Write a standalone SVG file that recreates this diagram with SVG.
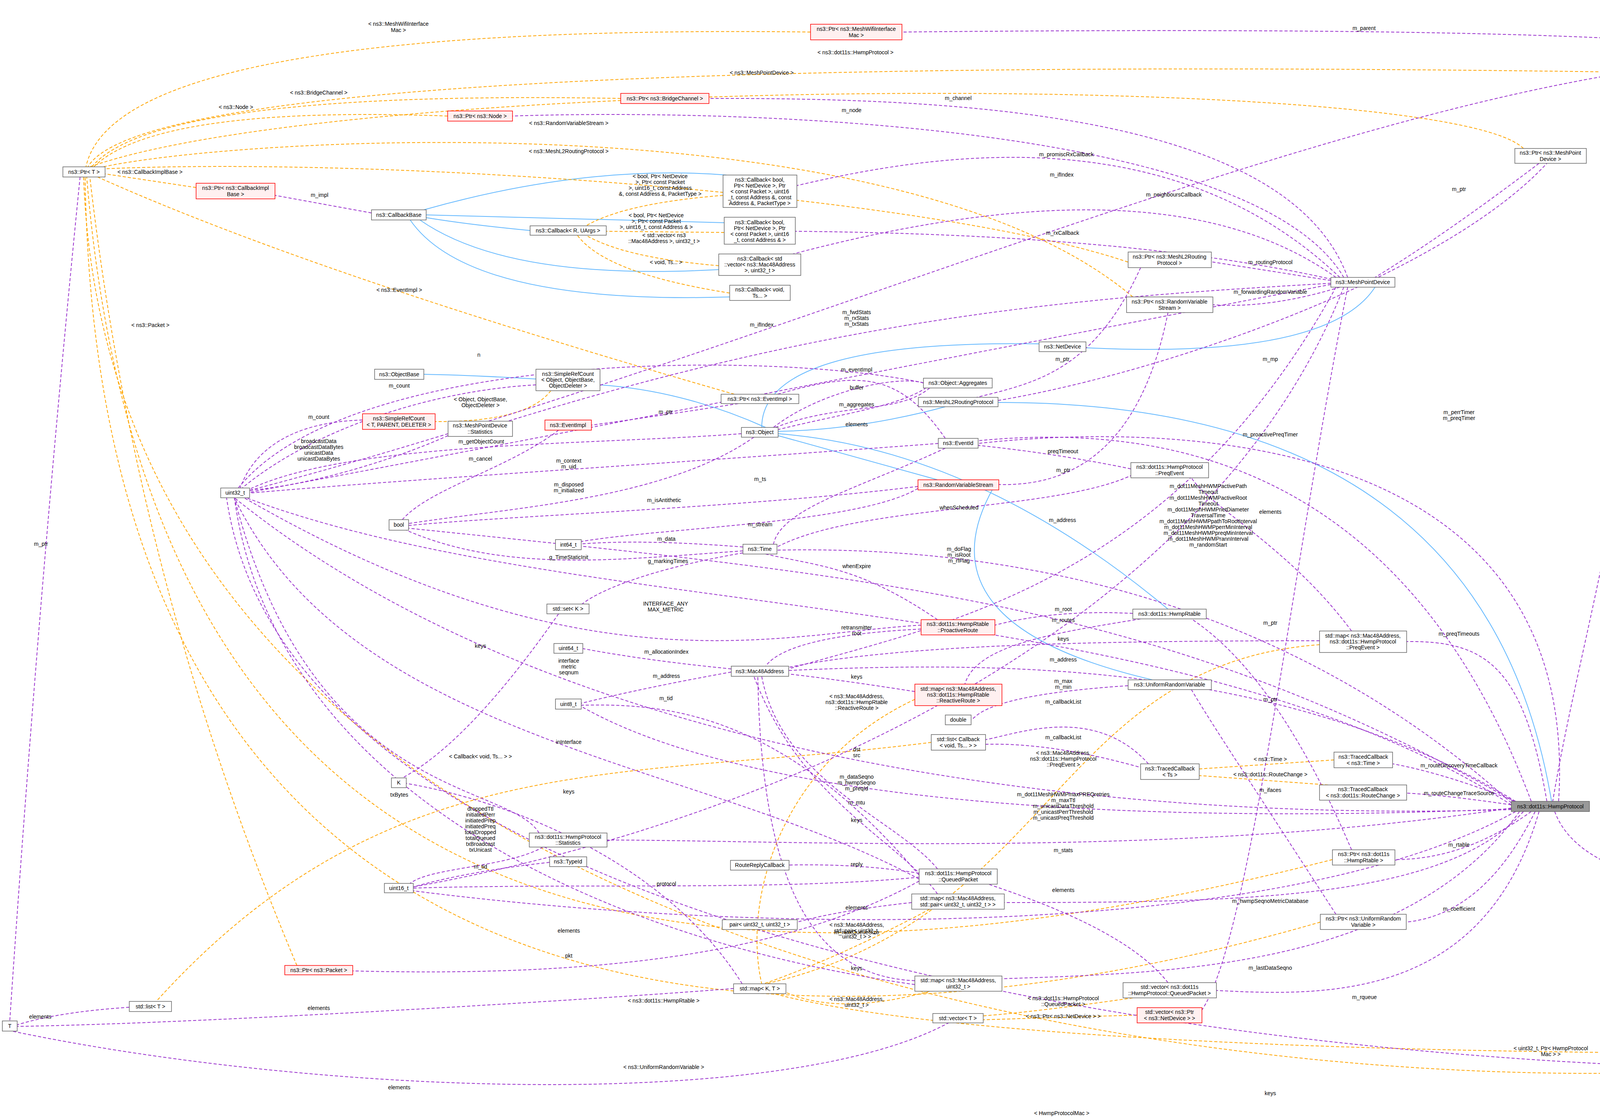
<svg xmlns="http://www.w3.org/2000/svg" width="5360" height="2864" viewBox="0 0 5360 2864">
<style>
text{font-family:"Liberation Sans",Arial,sans-serif;font-size:14px;fill:#000}
.n rect{fill:#fff;stroke:#666;stroke-width:1.5}
.r rect{fill:#fff0f0;stroke:#f00;stroke-width:1.5}
.g rect{fill:#999;stroke:#666;stroke-width:1.5}
.n text,.r text,.g text,.l{text-anchor:middle}
path{fill:none}
.p{stroke:#9a32cd;stroke-width:2;stroke-dasharray:8,5}
.o{stroke:#ffa500;stroke-width:2;stroke-dasharray:8,5}
.b{stroke:#63b8ff;stroke-width:2}
</style>
<defs>
<marker id="mp" markerWidth="10" markerHeight="10" refX="9" refY="5" orient="auto" markerUnits="userSpaceOnUse" viewBox="0 0 10 10"><path d="M0,0 L10,5 L0,10z" fill="#9a32cd" transform="scale(1)"/></marker>
<marker id="mo" markerWidth="14" markerHeight="14" refX="13" refY="7" orient="auto" markerUnits="userSpaceOnUse" viewBox="0 0 14 14"><path d="M0,0 L14,7 L0,14z" fill="#ffa500"/></marker>
<marker id="mb" markerWidth="14" markerHeight="14" refX="13" refY="7" orient="auto" markerUnits="userSpaceOnUse" viewBox="0 0 14 14"><path d="M0,0 L14,7 L0,14z" fill="#63b8ff"/></marker>
</defs>
<rect width="5360" height="2864" fill="#fff"/>
<g id="edges">
<g marker-end="url(#mb)" class="b">
<path class="b" d="M4600,144 Q4480,60 4362,30"/>
<path class="b" d="M1860,448 Q1500,420 1085,537"/>
<path class="b" d="M1854,570 Q1500,560 1091,550"/>
<path class="b" d="M1357,590 Q1200,575 1091,557"/>
<path class="b" d="M1840,690 Q1300,720 1075,563"/>
<path class="b" d="M1868,760 Q1200,780 1050,563"/>
<path class="b" d="M1372,970 Q1200,960 1085,958"/>
<path class="b" d="M1960,1094 Q1750,1000 1536,985"/>
<path class="b" d="M2420,1041 Q2200,1100 1992,1104"/>
<path class="b" d="M2660,880 Q1950,870 1950,1094"/>
<path class="b" d="M2400,1228 L1992,1115"/>
<path class="b" d="M2990,1559 Q2500,1150 1992,1110"/>
<path class="b" d="M3520,735 Q3400,920 2780,890"/>
<path class="b" d="M3972,2051 Q3800,1030 2555,1030"/>
<path class="b" d="M2950,1740 Q2350,1600 2540,1254"/>
</g>
<g marker-end="url(#mo)">
<path class="o" d="M2075,82 Q300,60 220,427"/>
<path class="o" d="M4183,185 Q400,130 225,427"/>
<path class="o" d="M3900,380 C3700,180 900,190 230,427"/>
<path class="o" d="M1589,252 Q400,230 235,427"/>
<path class="o" d="M1146,297 Q400,270 240,427"/>
<path class="o" d="M2900,760 C2300,250 600,350 250,430"/>
<path class="o" d="M2900,675 C2400,500 1000,400 269,432"/>
<path class="o" d="M502,480 L269,445"/>
<path class="o" d="M1880,1009 Q800,700 250,453"/>
<path class="o" d="M760,2471 Q350,1500 230,453"/>
<path class="o" d="M3411,2200 C2000,2560 400,2600 222,453"/>
<path class="o" d="M3380,2360 C2000,2760 250,2700 218,453"/>
<path class="o" d="M4900,2668 C4300,2870 300,2860 214,453"/>
<path class="o" d="M1851,500 Q1600,520 1500,578"/>
<path class="o" d="M1854,595 L1552,592"/>
<path class="o" d="M1840,680 Q1600,660 1500,602"/>
<path class="o" d="M1868,750 Q1550,700 1478,602"/>
<path class="o" d="M1410,1000 Q1350,1080 1114,1079"/>
<path class="o" d="M2384,1900 C1600,2000 1000,1900 400,2563"/>
<path class="o" d="M2342,1790 C2000,1950 1900,2300 1950,2518"/>
<path class="o" d="M3378,1650 C2700,1700 2700,2350 1960,2518"/>
<path class="o" d="M2380,2327 Q2150,2450 1955,2518"/>
<path class="o" d="M2380,2537 Q2150,2600 2012,2540"/>
<path class="o" d="M5144,2690 C4000,2710 2500,2680 1980,2543"/>
<path class="o" d="M2900,2554 Q2650,2590 2517,2600"/>
<path class="o" d="M2911,2598 L2517,2610"/>
<path class="o" d="M3415,1945 L3070,1968"/>
<path class="o" d="M3400,2009 L3070,1985"/>
</g>
<g marker-end="url(#mp)">
<path class="p" d="M4580,144 C4300,70 3000,75 2309,82"/>
<path class="p" d="M4488,160 L4344,185"/>
<path class="p" d="M4488,150 C3500,200 2000,900 639,1255"/>
<path class="p" d="M3940,418 Q3700,600 3520,710"/>
<path class="p" d="M2555,1025 C3000,950 3700,700 3960,418"/>
<path class="p" d="M4260,210 C4200,1200 4050,1600 3975,2051"/>
<path class="p" d="M4920,2642 Q4800,1000 4605,169"/>
<path class="p" d="M3980,2077 C4100,2400 5000,2200 5240,2662"/>
<path class="p" d="M5144,2675 L5028,2655"/>
<path class="p" d="M5200,2702 C5000,2800 800,2800 580,1274"/>
<path class="p" d="M3450,710 C3300,300 2500,250 1815,252"/>
<path class="p" d="M3440,710 C3200,300 1800,280 1312,297"/>
<path class="p" d="M3430,710 C3000,300 2400,390 2040,475"/>
<path class="p" d="M3410,715 Q2900,600 2036,592"/>
<path class="p" d="M3420,710 C3100,480 2600,500 2030,650"/>
<path class="p" d="M3407,718 L3101,670"/>
<path class="p" d="M3430,735 Q3250,790 3105,780"/>
<path class="p" d="M3407,725 C2800,760 2200,800 1300,1078"/>
<path class="p" d="M3407,728 C2500,900 1500,1100 639,1260"/>
<path class="p" d="M3440,735 C3100,1600 2000,2100 1058,2270"/>
<path class="p" d="M3450,735 C3300,1500 3200,2400 3077,2585"/>
<path class="p" d="M3420,735 C3000,1500 2400,1600 2019,1712"/>
<path class="p" d="M2920,685 C2800,950 2650,980 2500,1017"/>
<path class="p" d="M2990,800 Q2900,1250 2557,1240"/>
<path class="p" d="M951,545 L704,500"/>
<path class="p" d="M2420,1122 C2300,950 2200,950 1990,1009"/>
<path class="p" d="M1890,1033 Q1650,1070 1514,1088"/>
<path class="p" d="M1980,1094 C2100,1000 2300,960 2364,980"/>
<path class="p" d="M1990,1100 C2150,1060 2300,1040 2370,993"/>
<path class="p" d="M2380,993 C2300,1060 2150,1030 1985,1094"/>
<path class="p" d="M1372,985 C1100,1000 800,1100 620,1249"/>
<path class="p" d="M928,1075 C750,1080 650,1150 615,1249"/>
<path class="p" d="M1147,1115 C1000,1180 800,1240 639,1255"/>
<path class="p" d="M1898,1110 C1500,1140 900,1130 639,1252"/>
<path class="p" d="M1430,1101 C1300,1200 1100,1250 1030,1330"/>
<path class="p" d="M2402,1135 C1800,1180 1000,1230 639,1262"/>
<path class="p" d="M1930,1119 C1700,1280 1300,1300 1046,1340"/>
<path class="p" d="M2350,1245 C1900,1300 1300,1320 1046,1345"/>
<path class="p" d="M1902,1400 Q1650,1380 1488,1392"/>
<path class="p" d="M1902,1410 C1600,1430 1300,1470 1040,1357"/>
<path class="p" d="M1902,1415 C1700,1450 1550,1500 1490,1546"/>
<path class="p" d="M1430,1571 Q1200,1900 1030,1991"/>
<path class="p" d="M3869,2060 C3000,1500 1500,1600 630,1274"/>
<path class="p" d="M2358,1600 C2000,1620 1500,1780 625,1274"/>
<path class="p" d="M1872,1712 Q1650,1690 1492,1660"/>
<path class="p" d="M1872,1720 Q1650,1760 1488,1800"/>
<path class="p" d="M2353,2240 C2000,1820 1700,1800 1488,1805"/>
<path class="p" d="M2353,2250 C1800,1950 900,1900 600,1274"/>
<path class="p" d="M2420,1147 C2200,1250 2000,1300 1980,1393"/>
<path class="p" d="M2350,1250 C2200,1340 1700,1350 1488,1386"/>
<path class="p" d="M2895,1200 Q2700,1160 2504,1140"/>
<path class="p" d="M3920,2051 C3600,1200 3000,1080 2504,1128"/>
<path class="p" d="M3990,2051 C4050,1100 3000,1080 2504,1135"/>
<path class="p" d="M2900,1215 C2700,1310 2200,1290 1989,1400"/>
<path class="p" d="M2400,1586 C2200,1450 2100,1450 1960,1418"/>
<path class="p" d="M3869,2055 C3200,1450 2400,1400 1989,1408"/>
<path class="p" d="M3875,2051 C3000,1550 2300,1480 1046,1352"/>
<path class="p" d="M2900,1570 Q2700,1560 2547,1600"/>
<path class="p" d="M2920,1584 C2700,1620 2500,1650 2470,1751"/>
<path class="p" d="M2358,1610 C2150,1620 2000,1650 1960,1705"/>
<path class="p" d="M3378,1640 C2800,1640 2300,1650 2019,1708"/>
<path class="p" d="M2342,1770 Q2150,1740 2019,1725"/>
<path class="p" d="M3880,2051 C3300,1700 2600,1690 2019,1716"/>
<path class="p" d="M2888,1755 C2500,1780 2500,1840 2486,1842"/>
<path class="p" d="M2940,1955 C2800,1800 2600,1880 2523,1893"/>
<path class="p" d="M2940,1970 Q2700,1900 2523,1905"/>
<path class="p" d="M3460,1615 C3300,1400 3100,1300 3050,1223"/>
<path class="p" d="M3960,2051 C3900,1700 3800,1640 3601,1642"/>
<path class="p" d="M3880,2051 Q3700,1980 3566,1955"/>
<path class="p" d="M3869,2060 Q3700,2035 3601,2030"/>
<path class="p" d="M3869,2068 C3000,2200 2000,2150 1554,2150"/>
<path class="p" d="M1380,2132 C1300,2000 800,2050 600,1274"/>
<path class="p" d="M1390,2168 C1300,2220 1100,2220 1050,2261"/>
<path class="p" d="M1407,2207 Q1200,2230 1058,2270"/>
<path class="p" d="M2353,2245 C2000,2280 1500,2260 1058,2273"/>
<path class="p" d="M2353,2255 C2000,2450 1500,2500 903,2485"/>
<path class="p" d="M2353,2235 Q2200,2210 2020,2214"/>
<path class="p" d="M2400,2224 C2300,2100 2000,2000 1950,1731"/>
<path class="p" d="M3869,2072 C3000,2100 1500,2000 600,1274"/>
<path class="p" d="M3869,2070 C3200,2100 2000,2100 1488,1808"/>
<path class="p" d="M3460,2175 C3300,1800 3150,1650 3050,1584"/>
<path class="p" d="M3920,2077 Q3750,2200 3571,2200"/>
<path class="p" d="M3900,2077 C3700,2300 3200,2310 2571,2310"/>
<path class="p" d="M2334,2310 Q2150,2330 2041,2360"/>
<path class="p" d="M2400,2288 C2300,2150 2050,2050 1930,1731"/>
<path class="p" d="M3930,2077 Q3800,2340 3600,2360"/>
<path class="p" d="M3420,2340 C3200,2000 3100,1850 3050,1765"/>
<path class="p" d="M3880,2077 C3300,2400 2000,2400 1058,2280"/>
<path class="p" d="M3890,2077 C3600,2480 3000,2490 2565,2505"/>
<path class="p" d="M2342,2510 C2100,2500 1950,2300 1940,1731"/>
<path class="p" d="M3940,2077 C3800,2560 3400,2550 3114,2535"/>
<path class="p" d="M2990,2515 C2900,2400 2700,2320 2530,2263"/>
<path class="p" d="M2430,2617 C2000,2850 800,2800 30,2639"/>
<path class="p" d="M331,2578 Q150,2590 44,2623"/>
<path class="p" d="M1878,2530 C1500,2560 500,2620 44,2627"/>
<path class="p" d="M1900,2518 C1700,2200 1300,2050 1040,2005"/>
<path class="p" d="M205,453 Q100,1500 25,2613"/>
<path class="p" d="M2342,2520 C1500,2400 700,2000 600,1274"/>
<path class="p" d="M2364,980 C2000,900 900,890 610,1249"/>
</g>
<g class="lbls">
<text class="l" x="1020" y="66">&lt; ns3::MeshWifiInterface</text><text class="l" x="1020" y="82">Mac &gt;</text>
<text class="l" x="2190" y="139">&lt; ns3::dot11s::HwmpProtocol &gt;</text>
<text class="l" x="1950" y="191">&lt; ns3::MeshPointDevice &gt;</text>
<text class="l" x="816" y="242">&lt; ns3::BridgeChannel &gt;</text>
<text class="l" x="604" y="279">&lt; ns3::Node &gt;</text>
<text class="l" x="1456" y="320">&lt; ns3::RandomVariableStream &gt;</text>
<text class="l" x="1456" y="392">&lt; ns3::MeshL2RoutingProtocol &gt;</text>
<text class="l" x="384" y="445">&lt; ns3::CallbackImplBase &gt;</text>
<text class="l" x="1022" y="747">&lt; ns3::EventImpl &gt;</text>
<text class="l" x="385" y="837">&lt; ns3::Packet &gt;</text>
<text class="l" x="1699" y="2566">&lt; ns3::dot11s::HwmpRtable &gt;</text>
<text class="l" x="1699" y="2736">&lt; ns3::UniformRandomVariable &gt;</text>
<text class="l" x="2718" y="2854">&lt; HwmpProtocolMac &gt;</text>
<text class="l" x="1690" y="456">&lt; bool, Ptr&lt; NetDevice</text><text class="l" x="1690" y="471">&gt;, Ptr&lt; const Packet</text><text class="l" x="1690" y="486">&gt;, uint16_t, const Address</text><text class="l" x="1690" y="501">&amp;, const Address &amp;, PacketType &gt;</text>
<text class="l" x="1680" y="556">&lt; bool, Ptr&lt; NetDevice</text><text class="l" x="1680" y="571">&gt;, Ptr&lt; const Packet</text><text class="l" x="1680" y="586">&gt;, uint16_t, const Address &amp; &gt;</text>
<text class="l" x="1700" y="607">&lt; std::vector&lt; ns3</text><text class="l" x="1700" y="622">::Mac48Address &gt;, uint32_t &gt;</text>
<text class="l" x="1705" y="676">&lt; void, Ts... &gt;</text>
<text class="l" x="1230" y="1027">&lt; Object, ObjectBase,</text><text class="l" x="1230" y="1042">ObjectDeleter &gt;</text>
<text class="l" x="1230" y="1941">&lt; Callback&lt; void, Ts... &gt; &gt;</text>
<text class="l" x="2193" y="1787">&lt; ns3::Mac48Address,</text><text class="l" x="2193" y="1802">ns3::dot11s::HwmpRtable</text><text class="l" x="2193" y="1817">::ReactiveRoute &gt;</text>
<text class="l" x="2722" y="1932">&lt; ns3::Mac48Address,</text><text class="l" x="2722" y="1947">ns3::dot11s::HwmpProtocol</text><text class="l" x="2722" y="1962">::PreqEvent &gt;</text>
<text class="l" x="2193" y="2372">&lt; ns3::Mac48Address,</text><text class="l" x="2193" y="2387">std::pair&lt; uint32_t,</text><text class="l" x="2193" y="2402">uint32_t &gt; &gt;</text>
<text class="l" x="2193" y="2562">&lt; ns3::Mac48Address,</text><text class="l" x="2193" y="2577">uint32_t &gt;</text>
<text class="l" x="3970" y="2688">&lt; uint32_t, Ptr&lt; HwmpProtocol</text><text class="l" x="3970" y="2703">Mac &gt; &gt;</text>
<text class="l" x="2722" y="2560">&lt; ns3::dot11s::HwmpProtocol</text><text class="l" x="2722" y="2575">::QueuedPacket &gt;</text>
<text class="l" x="2722" y="2606">&lt; ns3::Ptr&lt; ns3::NetDevice &gt; &gt;</text>
<text class="l" x="3252" y="1948">&lt; ns3::Time &gt;</text>
<text class="l" x="3252" y="1987">&lt; ns3::dot11s::RouteChange &gt;</text>
<text class="l" x="3492" y="77">m_parent</text>
<text class="l" x="4427" y="165">m_protocol</text>
<text class="l" x="2718" y="452">m_ifIndex</text>
<text class="l" x="3735" y="489">m_ptr</text>
<text class="l" x="3252" y="924">m_mp</text>
<text class="l" x="4122" y="1010">m_ptr</text>
<text class="l" x="4762" y="1251">m_ptr</text>
<text class="l" x="4603" y="2336">m_interfaces</text>
<text class="l" x="5088" y="2656">elements</text>
<text class="l" x="3252" y="2803">keys</text>
<text class="l" x="2453" y="256">m_channel</text>
<text class="l" x="2180" y="287">m_node</text>
<text class="l" x="2730" y="400">m_promiscRxCallback</text>
<text class="l" x="2720" y="601">m_rxCallback</text>
<text class="l" x="3005" y="503">m_neighboursCallback</text>
<text class="l" x="3252" y="676">m_routingProtocol</text>
<text class="l" x="3252" y="752">m_forwardingRandomVariable</text>
<text class="l" x="2193" y="804">m_fwdStats</text><text class="l" x="2193" y="819">m_rxStats</text><text class="l" x="2193" y="834">m_txStats</text>
<text class="l" x="1950" y="836">m_ifIndex</text>
<text class="l" x="2193" y="2059">m_mtu</text>
<text class="l" x="3252" y="2027">m_ifaces</text>
<text class="l" x="2720" y="1336">m_address</text>
<text class="l" x="2720" y="924">m_ptr</text>
<text class="l" x="2722" y="1208">m_ptr</text>
<text class="l" x="818" y="504">m_impl</text>
<text class="l" x="2193" y="951">m_eventImpl</text>
<text class="l" x="1704" y="1059">m_ptr</text>
<text class="l" x="2193" y="997">buffer</text>
<text class="l" x="2193" y="1040">m_aggregates</text>
<text class="l" x="2193" y="1091">elements</text>
<text class="l" x="1022" y="992">m_count</text>
<text class="l" x="816" y="1072">m_count</text>
<text class="l" x="816" y="1134">broadcastData</text><text class="l" x="816" y="1149">broadcastDataBytes</text><text class="l" x="816" y="1164">unicastData</text><text class="l" x="816" y="1179">unicastDataBytes</text>
<text class="l" x="1232" y="1135">m_getObjectCount</text>
<text class="l" x="1230" y="1179">m_cancel</text>
<text class="l" x="1456" y="1184">m_context</text><text class="l" x="1456" y="1199">m_uid</text>
<text class="l" x="1456" y="1245">m_disposed</text><text class="l" x="1456" y="1260">m_initialized</text>
<text class="l" x="1700" y="1285">m_isAntithetic</text>
<text class="l" x="1706" y="1384">m_data</text>
<text class="l" x="1456" y="1431">g_TimeStaticInit</text>
<text class="l" x="1710" y="1441">g_markingTimes</text>
<text class="l" x="1230" y="1658">keys</text>
<text class="l" x="1704" y="1550">INTERFACE_ANY</text><text class="l" x="1704" y="1565">MAX_METRIC</text>
<text class="l" x="1456" y="1696">interface</text><text class="l" x="1456" y="1711">metric</text><text class="l" x="1456" y="1726">seqnum</text>
<text class="l" x="1706" y="1673">m_allocationIndex</text>
<text class="l" x="1706" y="1735">m_address</text>
<text class="l" x="1705" y="1792">m_tid</text>
<text class="l" x="1456" y="1904">inInterface</text>
<text class="l" x="1946" y="1231">m_ts</text>
<text class="l" x="1946" y="1347">m_stream</text>
<text class="l" x="2721" y="1160">preqTimeout</text>
<text class="l" x="3252" y="1117">m_proactivePreqTimer</text>
<text class="l" x="3735" y="1060">m_perrTimer</text><text class="l" x="3735" y="1075">m_preqTimer</text>
<text class="l" x="2455" y="1304">whenScheduled</text>
<text class="l" x="2193" y="1454">whenExpire</text>
<text class="l" x="3093" y="1249">m_dot11MeshHWMPactivePath</text><text class="l" x="3093" y="1264">Timeout</text><text class="l" x="3093" y="1279">m_dot11MeshHWMPactiveRoot</text><text class="l" x="3093" y="1294">Timeout</text><text class="l" x="3093" y="1309">m_dot11MeshHWMPnetDiameter</text><text class="l" x="3093" y="1324">TraversalTime</text><text class="l" x="3093" y="1339">m_dot11MeshHWMPpathToRootInterval</text><text class="l" x="3093" y="1354">m_dot11MeshHWMPperrMinInterval</text><text class="l" x="3093" y="1369">m_dot11MeshHWMPpreqMinInterval</text><text class="l" x="3093" y="1384">m_dot11MeshHWMPrannInterval</text><text class="l" x="3093" y="1399">m_randomStart</text>
<text class="l" x="2455" y="1410">m_doFlag</text><text class="l" x="2455" y="1425">m_isRoot</text><text class="l" x="2455" y="1440">m_rfFlag</text>
<text class="l" x="2722" y="1564">m_root</text>
<text class="l" x="2722" y="1592">m_routes</text>
<text class="l" x="2193" y="1611">retransmitter</text><text class="l" x="2193" y="1626">root</text>
<text class="l" x="2722" y="1640">keys</text>
<text class="l" x="2193" y="1737">keys</text>
<text class="l" x="2722" y="1693">m_address</text>
<text class="l" x="2722" y="1748">m_max</text><text class="l" x="2722" y="1763">m_min</text>
<text class="l" x="2722" y="1801">m_callbackList</text>
<text class="l" x="2722" y="1892">m_callbackList</text>
<text class="l" x="3252" y="1315">elements</text>
<text class="l" x="3735" y="1627">m_preqTimeouts</text>
<text class="l" x="3735" y="1964">m_routeDiscoveryTimeCallback</text>
<text class="l" x="3735" y="2035">m_routeChangeTraceSource</text>
<text class="l" x="2722" y="2181">m_stats</text>
<text class="l" x="1022" y="2039">txBytes</text>
<text class="l" x="1230" y="2075">droppedTtl</text><text class="l" x="1230" y="2090">initiatedPerr</text><text class="l" x="1230" y="2105">initiatedPrep</text><text class="l" x="1230" y="2120">initiatedPreq</text><text class="l" x="1230" y="2135">totalDropped</text><text class="l" x="1230" y="2150">totalQueued</text><text class="l" x="1230" y="2165">txBroadcast</text><text class="l" x="1230" y="2180">txUnicast</text>
<text class="l" x="1230" y="2223">m_tid</text>
<text class="l" x="1706" y="2267">protocol</text>
<text class="l" x="1456" y="2451">pkt</text>
<text class="l" x="2193" y="2217">reply</text>
<text class="l" x="2193" y="1923">dst</text><text class="l" x="2193" y="1938">src</text>
<text class="l" x="2193" y="1993">m_dataSeqno</text><text class="l" x="2193" y="2008">m_hwmpSeqno</text><text class="l" x="2193" y="2023">m_preqId</text>
<text class="l" x="2722" y="2038">m_dot11MeshHWMPmaxPREQretries</text><text class="l" x="2722" y="2053">m_maxTtl</text><text class="l" x="2722" y="2068">m_unicastDataThreshold</text><text class="l" x="2722" y="2083">m_unicastPerrThreshold</text><text class="l" x="2722" y="2098">m_unicastPreqThreshold</text>
<text class="l" x="3252" y="1599">m_ptr</text>
<text class="l" x="3735" y="2167">m_rtable</text>
<text class="l" x="3252" y="2311">m_hwmpSeqnoMetricDatabase</text>
<text class="l" x="2193" y="2328">elements</text>
<text class="l" x="2193" y="2104">keys</text>
<text class="l" x="3735" y="2331">m_coefficient</text>
<text class="l" x="3252" y="1795">m_ptr</text>
<text class="l" x="2193" y="2391">m_maxQueueSize</text>
<text class="l" x="3252" y="2482">m_lastDataSeqno</text>
<text class="l" x="2193" y="2483">keys</text>
<text class="l" x="3493" y="2557">m_rqueue</text>
<text class="l" x="2722" y="2283">elements</text>
<text class="l" x="1022" y="2788">elements</text>
<text class="l" x="103" y="2607">elements</text>
<text class="l" x="816" y="2585">elements</text>
<text class="l" x="1456" y="2031">keys</text>
<text class="l" x="105" y="1397">m_ptr</text>
<text class="l" x="1456" y="2387">elements</text>
<text class="l" x="1226" y="913">n</text>
</g>
</g>
<g id="n1" class="n"><rect x="161" y="427" width="108" height="26"/><text x="215" y="445">ns3::Ptr&lt; T &gt;</text></g>
<g id="n2" class="r"><rect x="502" y="469" width="202" height="40"/><text x="603" y="486">ns3::Ptr&lt; ns3::CallbackImpl</text><text x="603" y="502">Base &gt;</text></g>
<g id="n3" class="r"><rect x="1146" y="284" width="166" height="26"/><text x="1229" y="302">ns3::Ptr&lt; ns3::Node &gt;</text></g>
<g id="n4" class="r"><rect x="1589" y="239" width="226" height="26"/><text x="1702" y="257">ns3::Ptr&lt; ns3::BridgeChannel &gt;</text></g>
<g id="n5" class="n"><rect x="951" y="537" width="140" height="26"/><text x="1021" y="555">ns3::CallbackBase</text></g>
<g id="n6" class="n"><rect x="1357" y="578" width="195" height="24"/><text x="1454" y="595">ns3::Callback&lt; R, UArgs &gt;</text></g>
<g id="n7" class="n"><rect x="959" y="945" width="126" height="26"/><text x="1022" y="963">ns3::ObjectBase</text></g>
<g id="n8" class="n"><rect x="1372" y="945" width="164" height="55"/><text x="1454" y="962">ns3::SimpleRefCount</text><text x="1454" y="977">&lt; Object, ObjectBase,</text><text x="1454" y="992">ObjectDeleter &gt;</text></g>
<g id="n9" class="r"><rect x="2075" y="62" width="234" height="40"/><text x="2192" y="79">ns3::Ptr&lt; ns3::MeshWifiInterface</text><text x="2192" y="95">Mac &gt;</text></g>
<g id="n10" class="n"><rect x="1851" y="448" width="189" height="83"/><text x="1945" y="465">ns3::Callback&lt; bool,</text><text x="1945" y="480">Ptr&lt; NetDevice &gt;, Ptr</text><text x="1945" y="495">&lt; const Packet &gt;, uint16</text><text x="1945" y="510">_t, const Address &amp;, const</text><text x="1945" y="525">Address &amp;, PacketType &gt;</text></g>
<g id="n11" class="n"><rect x="1854" y="556" width="182" height="69"/><text x="1945" y="574">ns3::Callback&lt; bool,</text><text x="1945" y="589">Ptr&lt; NetDevice &gt;, Ptr</text><text x="1945" y="604">&lt; const Packet &gt;, uint16</text><text x="1945" y="619">_t, const Address &amp; &gt;</text></g>
<g id="n12" class="n"><rect x="1840" y="650" width="210" height="55"/><text x="1945" y="667">ns3::Callback&lt; std</text><text x="1945" y="682">::vector&lt; ns3::Mac48Address</text><text x="1945" y="697">&gt;, uint32_t &gt;</text></g>
<g id="n13" class="n"><rect x="1868" y="730" width="155" height="39"/><text x="1945" y="746">ns3::Callback&lt; void,</text><text x="1945" y="762">Ts... &gt;</text></g>
<g id="n14" class="n"><rect x="2888" y="645" width="213" height="40"/><text x="2994" y="662">ns3::Ptr&lt; ns3::MeshL2Routing</text><text x="2994" y="678">Protocol &gt;</text></g>
<g id="n15" class="n"><rect x="3407" y="710" width="164" height="25"/><text x="3489" y="727">ns3::MeshPointDevice</text></g>
<g id="n16" class="n"><rect x="2884" y="760" width="221" height="40"/><text x="2994" y="777">ns3::Ptr&lt; ns3::RandomVariable</text><text x="2994" y="793">Stream &gt;</text></g>
<g id="n17" class="n"><rect x="2660" y="875" width="120" height="25"/><text x="2720" y="892">ns3::NetDevice</text></g>
<g id="n18" class="n"><rect x="2364" y="968" width="176" height="25"/><text x="2452" y="985">ns3::Object::Aggregates</text></g>
<g id="n19" class="r"><rect x="4166" y="5" width="196" height="40"/><text x="4264" y="22">ns3::MeshWifiInterfaceMac</text><text x="4264" y="38">Plugin</text></g>
<g id="n20" class="r"><rect x="4488" y="144" width="225" height="25"/><text x="4600" y="161">ns3::dot11s::HwmpProtocolMac</text></g>
<g id="n21" class="n"><rect x="4183" y="171" width="161" height="39"/><text x="4263" y="187">ns3::Ptr&lt; ns3::dot11s</text><text x="4263" y="203">::HwmpProtocol &gt;</text></g>
<g id="n22" class="n"><rect x="3878" y="380" width="183" height="38"/><text x="3969" y="396">ns3::Ptr&lt; ns3::MeshPoint</text><text x="3969" y="412">Device &gt;</text></g>
<g id="n23" class="r"><rect x="928" y="1059" width="186" height="40"/><text x="1021" y="1076">ns3::SimpleRefCount</text><text x="1021" y="1092">&lt; T, PARENT, DELETER &gt;</text></g>
<g id="n24" class="n"><rect x="1147" y="1078" width="165" height="39"/><text x="1229" y="1094">ns3::MeshPointDevice</text><text x="1229" y="1110">::Statistics</text></g>
<g id="n25" class="r"><rect x="1395" y="1075" width="119" height="26"/><text x="1454" y="1093">ns3::EventImpl</text></g>
<g id="n26" class="n"><rect x="565" y="1249" width="74" height="25"/><text x="602" y="1266">uint32_t</text></g>
<g id="n27" class="n"><rect x="996" y="1330" width="50" height="27"/><text x="1021" y="1348">bool</text></g>
<g id="n28" class="n"><rect x="1422" y="1381" width="66" height="26"/><text x="1455" y="1399">int64_t</text></g>
<g id="n29" class="n"><rect x="1400" y="1546" width="108" height="25"/><text x="1454" y="1563">std::set&lt; K &gt;</text></g>
<g id="n30" class="n"><rect x="1418" y="1647" width="74" height="25"/><text x="1455" y="1664">uint64_t</text></g>
<g id="n31" class="n"><rect x="1422" y="1789" width="66" height="26"/><text x="1455" y="1807">uint8_t</text></g>
<g id="n32" class="n"><rect x="1002" y="1991" width="38" height="25"/><text x="1021" y="2008">K</text></g>
<g id="n33" class="n"><rect x="1355" y="2132" width="199" height="36"/><text x="1454" y="2147">ns3::dot11s::HwmpProtocol</text><text x="1454" y="2162">::Statistics</text></g>
<g id="n34" class="n"><rect x="1407" y="2193" width="95" height="25"/><text x="1454" y="2210">ns3::TypeId</text></g>
<g id="n35" class="n"><rect x="984" y="2261" width="74" height="24"/><text x="1021" y="2278">uint16_t</text></g>
<g id="n36" class="r"><rect x="729" y="2471" width="174" height="24"/><text x="816" y="2488">ns3::Ptr&lt; ns3::Packet &gt;</text></g>
<g id="n37" class="n"><rect x="331" y="2563" width="108" height="26"/><text x="385" y="2581">std::list&lt; T &gt;</text></g>
<g id="n38" class="n"><rect x="6" y="2613" width="38" height="26"/><text x="25" y="2631">T</text></g>
<g id="n39" class="n"><rect x="1846" y="1009" width="199" height="24"/><text x="1945" y="1026">ns3::Ptr&lt; ns3::EventImpl &gt;</text></g>
<g id="n40" class="n"><rect x="2351" y="1017" width="204" height="24"/><text x="2453" y="1034">ns3::MeshL2RoutingProtocol</text></g>
<g id="n41" class="n"><rect x="1898" y="1094" width="94" height="25"/><text x="1945" y="1111">ns3::Object</text></g>
<g id="n42" class="n"><rect x="2402" y="1122" width="102" height="25"/><text x="2453" y="1139">ns3::EventId</text></g>
<g id="n43" class="n"><rect x="2895" y="1184" width="199" height="39"/><text x="2994" y="1200">ns3::dot11s::HwmpProtocol</text><text x="2994" y="1216">::PreqEvent</text></g>
<g id="n44" class="r"><rect x="2350" y="1228" width="207" height="26"/><text x="2453" y="1246">ns3::RandomVariableStream</text></g>
<g id="n45" class="n"><rect x="1902" y="1393" width="87" height="25"/><text x="1945" y="1410">ns3::Time</text></g>
<g id="n46" class="n"><rect x="2900" y="1559" width="188" height="25"/><text x="2994" y="1576">ns3::dot11s::HwmpRtable</text></g>
<g id="n47" class="r"><rect x="2358" y="1586" width="189" height="39"/><text x="2452" y="1602">ns3::dot11s::HwmpRtable</text><text x="2452" y="1618">::ProactiveRoute</text></g>
<g id="n48" class="n"><rect x="1872" y="1705" width="147" height="26"/><text x="1945" y="1723">ns3::Mac48Address</text></g>
<g id="n49" class="r"><rect x="2342" y="1751" width="223" height="55"/><text x="2453" y="1768">std::map&lt; ns3::Mac48Address,</text><text x="2453" y="1783">ns3::dot11s::HwmpRtable</text><text x="2453" y="1798">::ReactiveRoute &gt;</text></g>
<g id="n50" class="n"><rect x="2888" y="1740" width="213" height="25"/><text x="2994" y="1757">ns3::UniformRandomVariable</text></g>
<g id="n51" class="n"><rect x="2420" y="1830" width="66" height="25"/><text x="2453" y="1847">double</text></g>
<g id="n52" class="n"><rect x="2384" y="1880" width="139" height="40"/><text x="2453" y="1897">std::list&lt; Callback</text><text x="2453" y="1913">&lt; void, Ts... &gt; &gt;</text></g>
<g id="n53" class="n"><rect x="2920" y="1955" width="150" height="40"/><text x="2995" y="1972">ns3::TracedCallback</text><text x="2995" y="1988">&lt; Ts &gt;</text></g>
<g id="n54" class="n"><rect x="3378" y="1615" width="223" height="55"/><text x="3489" y="1632">std::map&lt; ns3::Mac48Address,</text><text x="3489" y="1647">ns3::dot11s::HwmpProtocol</text><text x="3489" y="1662">::PreqEvent &gt;</text></g>
<g id="n55" class="n"><rect x="3415" y="1925" width="150" height="40"/><text x="3490" y="1942">ns3::TracedCallback</text><text x="3490" y="1958">&lt; ns3::Time &gt;</text></g>
<g id="n56" class="n"><rect x="3378" y="2009" width="223" height="39"/><text x="3489" y="2025">ns3::TracedCallback</text><text x="3489" y="2041">&lt; ns3::dot11s::RouteChange &gt;</text></g>
<g id="n57" class="n"><rect x="1870" y="2202" width="150" height="25"/><text x="1945" y="2219">RouteReplyCallback</text></g>
<g id="n58" class="n"><rect x="2353" y="2224" width="200" height="39"/><text x="2453" y="2240">ns3::dot11s::HwmpProtocol</text><text x="2453" y="2256">::QueuedPacket</text></g>
<g id="n59" class="n"><rect x="2334" y="2288" width="237" height="39"/><text x="2452" y="2304">std::map&lt; ns3::Mac48Address,</text><text x="2452" y="2320">std::pair&lt; uint32_t, uint32_t &gt; &gt;</text></g>
<g id="n60" class="n"><rect x="1849" y="2354" width="192" height="25"/><text x="1945" y="2371">pair&lt; uint32_t, uint32_t &gt;</text></g>
<g id="n61" class="n"><rect x="1878" y="2518" width="134" height="25"/><text x="1945" y="2535">std::map&lt; K, T &gt;</text></g>
<g id="n62" class="n"><rect x="2342" y="2498" width="223" height="39"/><text x="2453" y="2514">std::map&lt; ns3::Mac48Address,</text><text x="2453" y="2530">uint32_t &gt;</text></g>
<g id="n63" class="n"><rect x="2875" y="2515" width="239" height="39"/><text x="2994" y="2531">std::vector&lt; ns3::dot11s</text><text x="2994" y="2547">::HwmpProtocol::QueuedPacket &gt;</text></g>
<g id="n64" class="n"><rect x="2388" y="2594" width="129" height="24"/><text x="2452" y="2611">std::vector&lt; T &gt;</text></g>
<g id="n65" class="r"><rect x="2911" y="2579" width="166" height="39"/><text x="2994" y="2595">std::vector&lt; ns3::Ptr</text><text x="2994" y="2611">&lt; ns3::NetDevice &gt; &gt;</text></g>
<g id="n66" class="n"><rect x="3411" y="2175" width="160" height="39"/><text x="3491" y="2191">ns3::Ptr&lt; ns3::dot11s</text><text x="3491" y="2207">::HwmpRtable &gt;</text></g>
<g id="n67" class="n"><rect x="3380" y="2340" width="220" height="39"/><text x="3490" y="2356">ns3::Ptr&lt; ns3::UniformRandom</text><text x="3490" y="2372">Variable &gt;</text></g>
<g id="n68" class="g"><rect x="3869" y="2051" width="200" height="26"/><text x="3969" y="2069">ns3::dot11s::HwmpProtocol</text></g>
<g id="n69" class="n"><rect x="4805" y="2642" width="223" height="26"/><text x="4916" y="2660">ns3::Ptr&lt; HwmpProtocolMac &gt;</text></g>
<g id="n70" class="n"><rect x="5144" y="2662" width="210" height="40"/><text x="5249" y="2679">std::map&lt; uint32_t,</text><text x="5249" y="2695">Ptr&lt; HwmpProtocolMac &gt; &gt;</text></g>
</svg>
